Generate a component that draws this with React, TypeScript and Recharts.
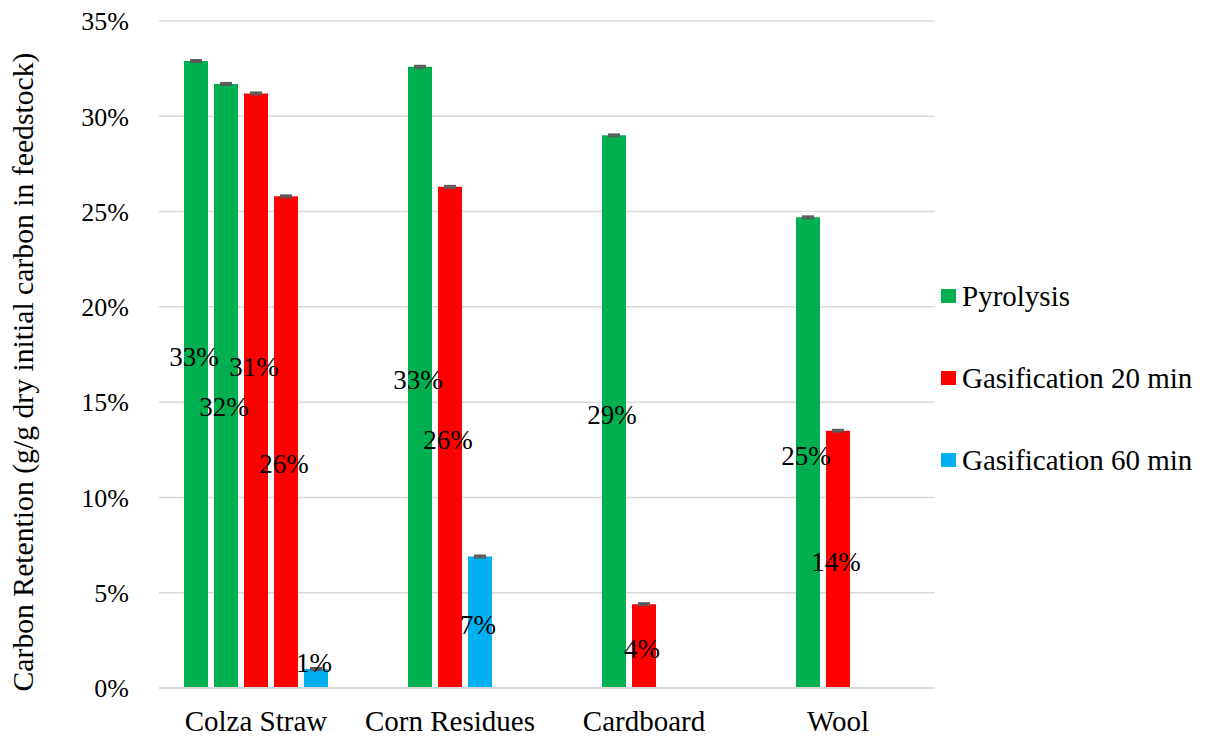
import { Bar, BarChart, CartesianGrid, Cell, ErrorBar, Label, LabelList, XAxis, YAxis } from "recharts";

const categories = ["Colza Straw", "Corn Residues", "Cardboard", "Wool"];

// five column slots per category, same as the spreadsheet layout; null = empty slot
const slot1 = [32.9, null, null, null];
const slot2 = [31.7, 32.6, 29.0, 24.7];
const slot3 = [31.2, 26.3, 4.4, 13.5];
const slot4 = [25.8, 6.9, null, null];
const slot5 = [1.0, null, null, null];

// which treatment each column belongs to
const slot1Kind = ["pyro", null, null, null];
const slot2Kind = ["pyro", "pyro", "pyro", "pyro"];
const slot3Kind = ["gas20", "gas20", "gas20", "gas20"];
const slot4Kind = ["gas20", "gas60", null, null];
const slot5Kind = ["gas60", null, null, null];

// standard deviations (very small)
const slot1Err = [0.05, null, null, null];
const slot2Err = [0.05, 0.05, 0.05, 0.05];
const slot3Err = [0.05, 0.05, 0.05, 0.05];
const slot4Err = [0.05, 0.05, null, null];
const slot5Err = [0.05, null, null, null];

const seriesNames = ["Pyrolysis", "Gasification 20 min", "Gasification 60 min"];
const seriesKeys = ["pyro", "gas20", "gas60"];
const yTicks = [0, 5, 10, 15, 20, 25, 30, 35];

const colors: Record<string, string> = { pyro: "#00B050", gas20: "#FF0000", gas60: "#00B0F0" };
const FONT = "'Liberation Serif', 'Times New Roman', serif";
// colza labels were dragged apart in the original so they don't collide
const colzaLabelShift = [-17.5, 21.5, -23.5, 21.5, -15.5];

const slots = [
  { values: slot1, kinds: slot1Kind, errs: slot1Err },
  { values: slot2, kinds: slot2Kind, errs: slot2Err },
  { values: slot3, kinds: slot3Kind, errs: slot3Err },
  { values: slot4, kinds: slot4Kind, errs: slot4Err },
  { values: slot5, kinds: slot5Kind, errs: slot5Err },
];

const data = categories.map((category, i) => {
  const row: Record<string, string | number | null> = { category };
  slots.forEach((s, k) => {
    row[`v${k}`] = s.values[i];
    row[`e${k}`] = s.errs[i];
  });
  return row;
});

function makeLabel(slotIndex: number) {
  return (props: any) => {
    const { value, index } = props;
    if (value == null) return null;
    const vb = props.viewBox ?? props;
    const x = Number(vb.x) + Number(vb.width) / 2 - 2;
    const shift = index === 0 ? colzaLabelShift[slotIndex] : 3;
    const y = Number(vb.y) + Number(vb.height) / 2 + shift;
    return (
      <text x={x} y={y} textAnchor="middle" dominantBaseline="central" fontSize={27} fontFamily={FONT} fill="#000">
        {Math.round(Number(value))}%
      </text>
    );
  };
}

export default function App() {
  return (
    <div style={{ position: "absolute", left: 0, top: 0, width: 1205, height: 739, background: "#fff" }}>
      <BarChart
        width={1205}
        height={739}
        data={data}
        margin={{ top: 21, right: 270, bottom: 0, left: 0 }}
        barGap={6}
      >
        <CartesianGrid vertical={false} stroke="#D9D9D9" strokeWidth={1.5} />
        <XAxis
          dataKey="category"
          height={51}
          tickLine={false}
          tickSize={0}
          tickMargin={22}
          axisLine={{ stroke: "#D9D9D9", strokeWidth: 2 }}
          tick={{ fill: "#000", fontSize: 29, fontFamily: FONT }}
        />
        <YAxis
          width={159}
          domain={[0, 35]}
          ticks={yTicks}
          interval={0}
          tickFormatter={(v) => `${v}%`}
          axisLine={false}
          tickLine={false}
          tickSize={0}
          tickMargin={30}
          tick={{ fill: "#000", fontSize: 26, fontFamily: FONT }}
        >
          <Label
            content={() => (
              <text
                x={33}
                y={372}
                transform="rotate(-90 33 372)"
                textAnchor="middle"
                fontSize={29.7}
                fontFamily={FONT}
                fill="#000"
              >
                Carbon Retention (g/g dry initial carbon in feedstock)
              </text>
            )}
          />
        </YAxis>
        {slots.map((s, k) => (
          <Bar key={k} dataKey={`v${k}`} barSize={24} isAnimationActive={false}>
            {s.kinds.map((kind, i) => (
              <Cell key={i} fill={kind ? colors[kind] : "transparent"} />
            ))}
            <ErrorBar dataKey={`e${k}`} width={6} strokeWidth={2} stroke="#595959" direction="y" />
            <LabelList dataKey={`v${k}`} content={makeLabel(k)} />
          </Bar>
        ))}
      </BarChart>
      <div style={{ position: "absolute", left: 941, top: 255, fontFamily: FONT, fontSize: 29, color: "#000" }}>
        {seriesNames.map((name, i) => (
          <div key={name} style={{ height: 82, display: "flex", alignItems: "center", whiteSpace: "nowrap" }}>
            <span style={{ display: "inline-block", width: 15, height: 14, background: colors[seriesKeys[i]], marginRight: 6 }} />
            {name}
          </div>
        ))}
      </div>
    </div>
  );
}
